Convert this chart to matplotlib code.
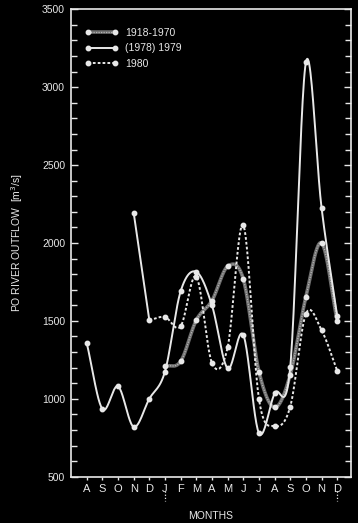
import matplotlib
matplotlib.use("Agg")
import matplotlib.pyplot as plt
from matplotlib.lines import Line2D
import numpy as np

# months from Aug 1978 to Dec 1979 (index 0..16)
months = ["A", "S", "O", "N", "D", "J", "F", "M", "A", "M", "J", "J", "A", "S", "O", "N", "D"]

# (1978) 1979, solid line, Aug 1978 - Dec 1979
flow_1979 = [1360, 935, 1080, 820, 1000, 1175, 1690, 1815, 1600, 1195, 1410, 780,
             1035, 1205, 3160, 2225, 1530]

# 1918-1970 mean, Jan - Dec
flow_mean = [1210, 1240, 1505, 1630, 1850, 1770, 1175, 945, 1155, 1655, 2000, 1500]

# 1980: Nov-Dec 1979 lead-in, then Jan - Dec 1980
lead_1980 = [2195, 1505]
flow_1980 = [1525, 1465, 1785, 1230, 1330, 2115, 1000, 825, 950, 1545, 1440, 1180]

FG = "#e8e8e8"
plt.rcParams["font.family"] = ["Liberation Sans", "DejaVu Sans"]


def smooth(x, y, n=24):
    # Catmull-Rom curve through the points (drawing only)
    x = np.asarray(x, float)
    y = np.asarray(y, float)
    px = np.r_[2 * x[0] - x[1], x, 2 * x[-1] - x[-2]]
    py = np.r_[2 * y[0] - y[1], y, 2 * y[-1] - y[-2]]
    t = np.linspace(0, 1, n, endpoint=False)[:, None]
    out = []
    for i in range(1, len(px) - 2):
        p = [np.array([px[j], py[j]]) for j in range(i - 1, i + 3)]
        c = 0.5 * ((2 * p[1]) + (-p[0] + p[2]) * t
                   + (2 * p[0] - 5 * p[1] + 4 * p[2] - p[3]) * t ** 2
                   + (-p[0] + 3 * p[1] - 3 * p[2] + p[3]) * t ** 3)
        out.append(c)
    out.append(np.array([[x[-1], y[-1]]]))
    out = np.vstack(out)
    return out[:, 0], out[:, 1]


x_all = np.arange(len(months))
x_year = x_all[5:]

fig = plt.figure(figsize=(3.58, 5.23), dpi=100, facecolor="black")
ax = fig.add_axes([0.1975, 0.0885, 0.7821, 0.8937], facecolor="black")

mk = dict(marker="o", markersize=3.2, color=FG, linestyle="none", zorder=5)

# 1918-1970
sx, sy = smooth(x_year, flow_mean)
g1, = ax.plot(sx, sy, color="#6e6e6e", lw=2.6, solid_capstyle="round", zorder=2)
g2, = ax.plot(sx, sy, color="#b4b4b4", lw=0.9, linestyle=(0, (1, 1)), zorder=2)
ax.plot(x_year, flow_mean, **mk)

# (1978) 1979
sx, sy = smooth(x_all, flow_1979)
ax.plot(sx, sy, color=FG, lw=1.4, zorder=3)
ax.plot(x_all, flow_1979, **mk)

# 1980
ax.plot(x_all[3:5], lead_1980, color=FG, lw=1.4, zorder=3)
ax.plot(x_all[3:5], lead_1980, **mk)
sx, sy = smooth(x_all[4:], [lead_1980[1]] + flow_1980)
ax.plot(sx, sy, color=FG, lw=1.4, linestyle=(0, (1.4, 1.1)), zorder=3)
ax.plot(x_year, flow_1980, **mk)

ax.set_xlim(-1.02, 16.86)
ax.set_ylim(500, 3500)

for s in ax.spines.values():
    s.set_color(FG)
    s.set_linewidth(1.2)

ax.set_yticks(np.arange(500, 3501, 500))
ax.set_yticks(np.arange(500, 3501, 100), minor=True)
ax.tick_params(axis="y", which="both", direction="in", left=True, right=True,
               colors=FG, labelsize=7.5, pad=4)
ax.tick_params(axis="y", which="major", length=5, width=1)
ax.tick_params(axis="y", which="minor", length=4, width=1)

ax.set_xticks(x_all)
ax.set_xticklabels(months)
ax.tick_params(axis="x", direction="out", length=2.5, width=1, colors=FG,
               labelsize=8, pad=2.5)

# year separators under J and D
tr = ax.get_xaxis_transform()
for xi in (5, 16):
    ax.plot([xi, xi], [-0.031, -0.051], transform=tr, clip_on=False,
            color=FG, lw=0.9, linestyle=(0, (1, 1.5)))

ax.set_ylabel("PO RIVER OUTFLOW  [m$^3$/s]", color=FG, fontsize=7.5)
ax.yaxis.set_label_coords(-0.163, 0.5)
ax.set_xlabel("MONTHS", color=FG, fontsize=7.5)
ax.xaxis.set_label_coords(0.5, -0.074)

handles = [
    (g1, g2, Line2D([], [], marker="o", markersize=3.2, color=FG, linestyle="none")),
    Line2D([], [], color=FG, lw=1.4, marker="o", markersize=3.2),
    Line2D([], [], color=FG, lw=1.4, linestyle=(0, (1.4, 1.1)), marker="o", markersize=3.2),
]
leg = ax.legend(handles, ["1918-1970", "(1978) 1979", "1980"], loc="upper left",
                bbox_to_anchor=(0.05, 0.961), frameon=False, fontsize=7.5,
                handlelength=3.2, handletextpad=0.7, labelspacing=0.55,
                borderpad=0, borderaxespad=0, numpoints=2)
for t in leg.get_texts():
    t.set_color(FG)

fig.savefig("out.png", dpi=100, facecolor="black")
